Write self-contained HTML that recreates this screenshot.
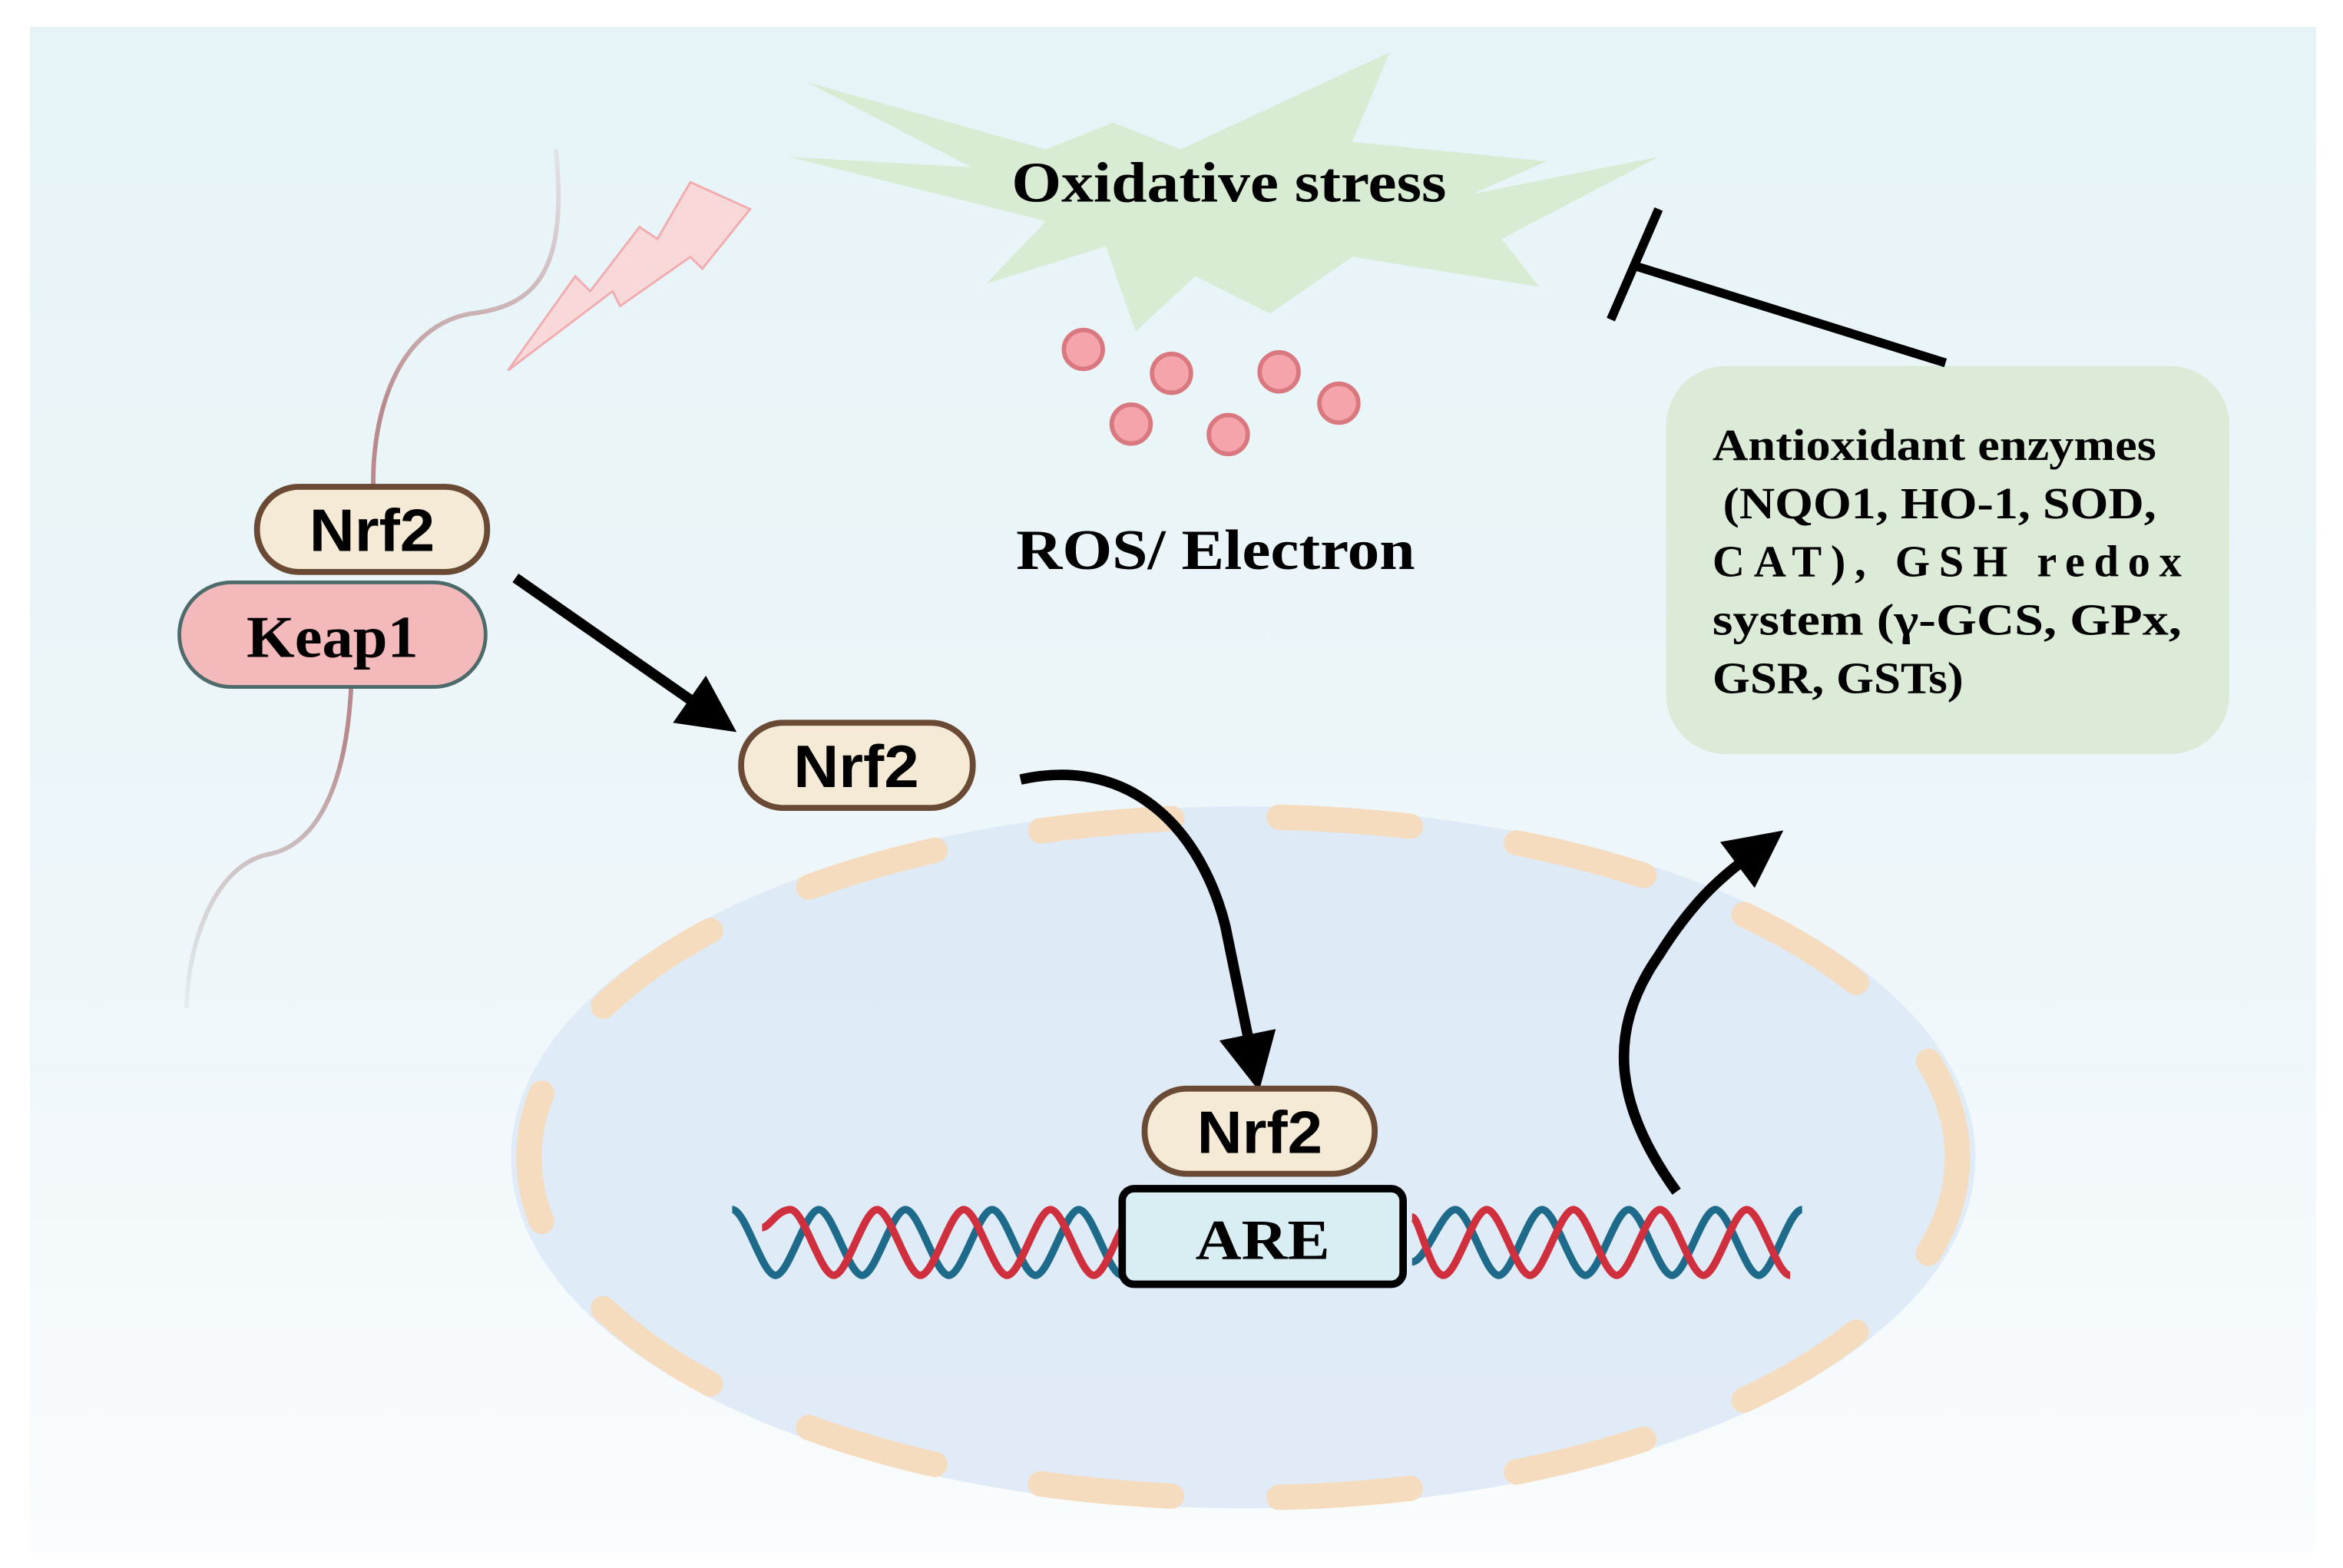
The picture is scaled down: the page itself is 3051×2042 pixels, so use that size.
<!DOCTYPE html>
<html><head><meta charset="utf-8"><style>
html,body{margin:0;padding:0;background:#fff}
svg{display:block}
</style></head><body>
<svg width="3051" height="2042" viewBox="0 0 1568 1050" preserveAspectRatio="none" xmlns="http://www.w3.org/2000/svg">
<defs>
<linearGradient id="bg" x1="0" y1="0" x2="0" y2="1">
<stop offset="0" stop-color="#e6f4f7"/><stop offset="0.6" stop-color="#eef6fa"/><stop offset="1" stop-color="#fafcfd"/>
</linearGradient>
<linearGradient id="mem" x1="0" y1="0" x2="0" y2="1">
<stop offset="0" stop-color="#c9a9ab" stop-opacity="0.2"/><stop offset="0.3" stop-color="#b98a8d"/><stop offset="0.7" stop-color="#b98a8d"/><stop offset="1" stop-color="#c9d6d6" stop-opacity="0.3"/>
</linearGradient>
<marker id="ah" viewBox="0 0 10 10" refX="4" refY="5" markerWidth="5.5" markerHeight="5.5" orient="auto"><path d="M0,0 L10,5 L0,10 Z" fill="#000"/></marker>
</defs>
<rect x="0" y="0" width="1568" height="1050" fill="#fff"/>
<rect x="20" y="18" width="1530" height="1022" fill="url(#bg)"/>
<path d="M372,100 C380,180 360,205 315,210 C260,220 248,290 250,330 M235,460 C232,520 215,565 180,572 C140,580 125,640 125,675" fill="none" stroke="url(#mem)" stroke-width="3"/>
<path d="M540,55 L700,100 L745,82 L790,100 L930,35 L905,95 L1035,108 L985,130 L1110,105 L1005,160 L1030,192 L905,172 L850,210 L800,185 L760,222 L740,165 L660,190 L700,148 L528,105 L650,112 Z" fill="#d8ecd3"/>
<text x="677" y="135" font-family="Liberation Serif,serif" font-weight="bold" font-size="38" textLength="291" lengthAdjust="spacingAndGlyphs">Oxidative stress</text>
<path d="M340,248 L410,195 L415,205 L462,172 L470,180 L502,140 L462,122 L440,160 L428,152 L395,195 L385,185 Z" fill="#fbd3d3" stroke="#f3a0a3" stroke-width="1.5" opacity="0.85"/>
<g fill="#f4a4aa" stroke="#d9787e" stroke-width="3">
<circle cx="725" cy="234" r="13"/><circle cx="784" cy="250" r="13"/><circle cx="856" cy="249" r="13"/><circle cx="896" cy="270" r="13"/><circle cx="757" cy="284" r="13"/><circle cx="822" cy="291" r="13"/>
</g>
<text x="680" y="381" font-family="Liberation Serif,serif" font-weight="bold" font-size="38" textLength="267" lengthAdjust="spacingAndGlyphs">ROS/ Electron</text>
<rect x="1115" y="245" width="377" height="260" rx="40" fill="#dcebd7"/>
<g font-family="Liberation Serif,serif" font-weight="bold" font-size="30">
<text x="1146" y="308" textLength="297" lengthAdjust="spacingAndGlyphs">Antioxidant  enzymes</text>
<text x="1153" y="347" textLength="290" lengthAdjust="spacingAndGlyphs">(NQO1, HO-1, SOD,</text>
<text x="1146" y="386" textLength="314" lengthAdjust="spacing">CAT), GSH redox</text>
<text x="1146" y="425" textLength="314" lengthAdjust="spacingAndGlyphs">system (γ-GCS, GPx,</text>
<text x="1146" y="464" textLength="168" lengthAdjust="spacingAndGlyphs">GSR, GSTs)</text>
</g>
<line x1="1302" y1="243" x2="1094" y2="178" stroke="#000" stroke-width="6"/>
<line x1="1110" y1="140" x2="1078" y2="214" stroke="#000" stroke-width="6"/>
<ellipse cx="832" cy="775" rx="490" ry="235" fill="#dde9f6" opacity="0.9"/>
<ellipse cx="832" cy="775" rx="478" ry="228" fill="none" stroke="#f5dcbf" stroke-width="17" stroke-linecap="round" stroke-dasharray="88 72" stroke-dashoffset="20"/>
<rect x="120" y="390" width="205" height="70" rx="35" fill="#f4b9bb" stroke="#4e6b6b" stroke-width="2.5"/>
<text x="165" y="440" font-family="Liberation Serif,serif" font-weight="bold" font-size="40" textLength="115" lengthAdjust="spacingAndGlyphs">Keap1</text>
<rect x="172" y="326" width="154" height="57" rx="28" fill="#f4ead6" stroke="#6b4a35" stroke-width="4"/>
<text x="249" y="369" font-family="Liberation Sans,sans-serif" font-weight="bold" font-size="40" text-anchor="middle" textLength="84" lengthAdjust="spacingAndGlyphs">Nrf2</text>
<line x1="345" y1="387" x2="474" y2="477" stroke="#000" stroke-width="7" marker-end="url(#ah)"/>
<rect x="496" y="484" width="155" height="57" rx="28" fill="#f4ead6" stroke="#6b4a35" stroke-width="4"/>
<text x="573" y="527" font-family="Liberation Sans,sans-serif" font-weight="bold" font-size="40" text-anchor="middle" textLength="84" lengthAdjust="spacingAndGlyphs">Nrf2</text>
<path d="M683,522 C760,505 805,560 820,620 L838,708" fill="none" stroke="#000" stroke-width="7" marker-end="url(#ah)"/>
<path d="M490,810 c9,0 20,44 29,44 s20,-44 29,-44 s20,44 29,44 s20,-44 29,-44 s20,44 29,44 s20,-44 29,-44 s20,44 29,44 s20,-44 29,-44 s20,44 29,44 M945,845 c9,0 20,-35 29,-35 s20,44 29,44 s20,-44 29,-44 s20,44 29,44 s20,-44 29,-44 s20,44 29,44 s20,-44 29,-44 s20,44 29,44 s20,-44 29,-44" fill="none" stroke="#1e6a8a" stroke-width="5"/>
<path d="M510,822 c5,0 10,-12 19,-12 s20,44 29,44 s20,-44 29,-44 s20,44 29,44 s20,-44 29,-44 s20,44 29,44 s20,-44 29,-44 s20,44 29,44 s20,-44 29,-44 M945,815 c5,0 12,39 21,39 s20,-44 29,-44 s20,44 29,44 s20,-44 29,-44 s20,44 29,44 s20,-44 29,-44 s20,44 29,44 s20,-44 29,-44 s20,44 29,44" fill="none" stroke="#d0303d" stroke-width="5"/>
<rect x="751" y="796" width="188" height="64" rx="8" fill="#d8eef3" stroke="#000" stroke-width="5"/>
<text x="800" y="843" font-family="Liberation Serif,serif" font-weight="bold" font-size="38" textLength="90" lengthAdjust="spacingAndGlyphs">ARE</text>
<rect x="766" y="729" width="154" height="57" rx="28" fill="#f4ead6" stroke="#6b4a35" stroke-width="4"/>
<text x="843" y="772" font-family="Liberation Sans,sans-serif" font-weight="bold" font-size="40" text-anchor="middle" textLength="84" lengthAdjust="spacingAndGlyphs">Nrf2</text>
<path d="M1122,798 C1080,740 1075,690 1110,640 C1135,600 1155,585 1175,570" fill="none" stroke="#000" stroke-width="7" marker-end="url(#ah)"/>
</svg>
</body></html>
